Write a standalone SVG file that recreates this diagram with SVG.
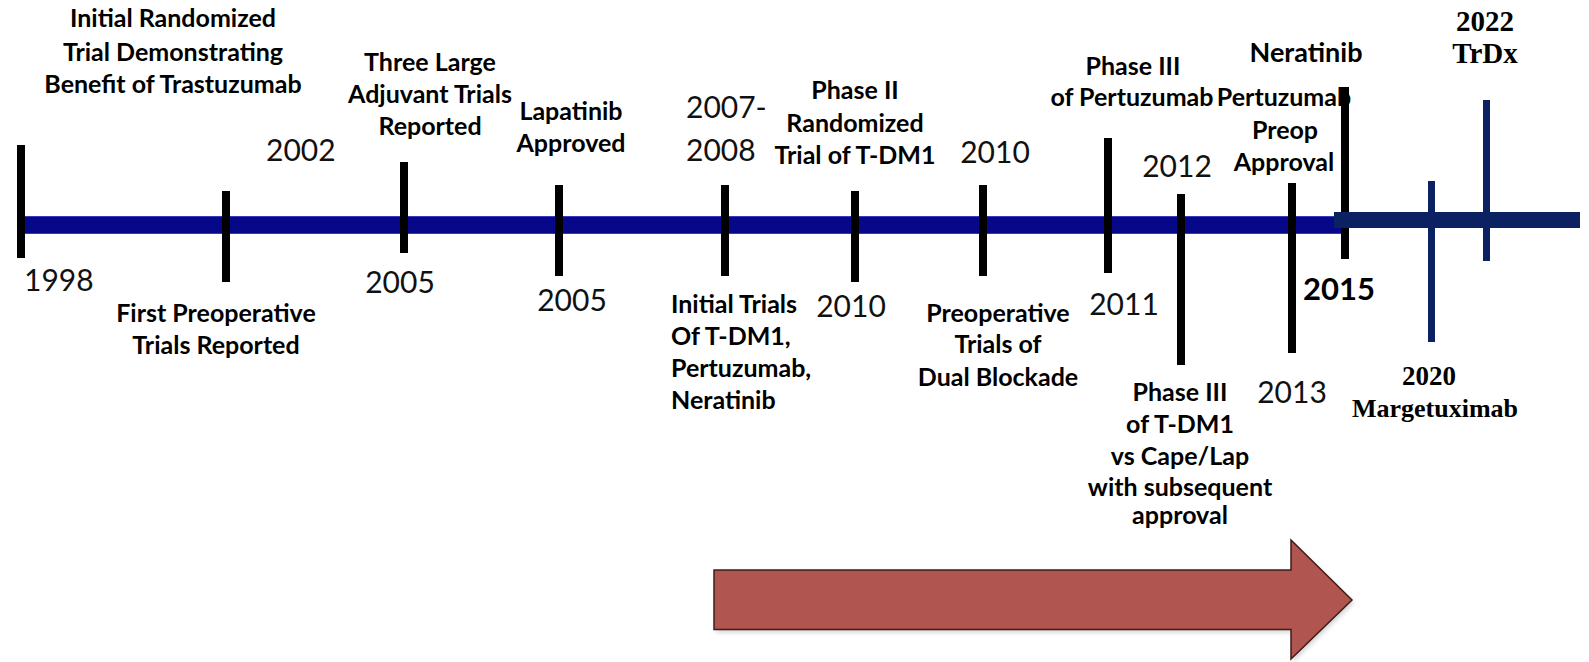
<svg xmlns="http://www.w3.org/2000/svg" width="1589" height="662" viewBox="0 0 1589 662">
<style>
.yr{font-family:Lato,"Open Sans","Liberation Sans",sans-serif;font-size:30px;fill:#111}
.yb{font-family:Lato,"Open Sans","Liberation Sans",sans-serif;font-size:31px;font-weight:bold;fill:#000}
.lb{font-family:Lato,"Open Sans","Liberation Sans",sans-serif;font-size:25px;font-weight:bold;fill:#000}
.lbl{font-family:Lato,"Open Sans","Liberation Sans",sans-serif;font-size:27px;font-weight:bold;fill:#000}
.tm{font-family:"Liberation Serif","Times New Roman",serif;font-size:27px;font-weight:bold;fill:#000}
.tm2{font-family:"Liberation Serif","Times New Roman",serif;font-size:29px;font-weight:bold;fill:#000}
.c{text-anchor:middle}
.tk{fill:#000}
.nv{fill:#0b2161}
</style>
<defs>
<filter id="sh" x="-5%" y="-20%" width="110%" height="150%">
<feGaussianBlur stdDeviation="2"/>
</filter>
</defs>
<rect width="1589" height="662" fill="#fff"/>
<g id="connectors">
<rect x="18" y="216.5" width="1330" height="17" fill="#07078a" stroke="#3a3ab8" stroke-width="1"/>
</g>
<g id="e1998"><rect class="tk" x="17" y="145" width="8" height="113"/><text class="yr" x="24" y="291">1998</text></g>
<g id="e2002"><rect class="tk" x="222" y="191" width="8" height="91"/><text class="yr" x="266" y="161">2002</text>
<text class="lb c" x="173" y="27">Initial Randomized</text><text class="lb c" x="173" y="61">Trial Demonstrating</text><text class="lb c" x="173" y="93">Benefit of Trastuzumab</text>
<text class="lb c" x="216" y="322">First Preoperative</text><text class="lb c" x="216" y="354">Trials Reported</text></g>
<g id="e2005a"><rect class="tk" x="400" y="162" width="8" height="91"/><text class="yr c" x="400" y="293">2005</text>
<text class="lb c" x="430" y="71">Three Large</text><text class="lb c" x="430" y="103">Adjuvant Trials</text><text class="lb c" x="430" y="135">Reported</text></g>
<g id="e2005b"><rect class="tk" x="555" y="185" width="8" height="91"/><text class="yr c" x="572" y="311">2005</text>
<text class="lb c" x="571" y="119.5">Lapatinib</text><text class="lb c" x="571" y="152">Approved</text></g>
<g id="e2007"><rect class="tk" x="721" y="185" width="8" height="91"/><text class="yr" x="686" y="118">2007-</text><text class="yr" x="686" y="160.5">2008</text>
<text class="lb" x="671" y="313">Initial Trials</text><text class="lb" x="671" y="345">Of T-DM1,</text><text class="lb" x="671" y="377">Pertuzumab,</text><text class="lb" x="671" y="409">Neratinib</text></g>
<g id="e2010a"><rect class="tk" x="851" y="191" width="8" height="91"/><text class="yr c" x="851" y="317">2010</text>
<text class="lb c" x="855" y="99">Phase II</text><text class="lb c" x="855" y="132">Randomized</text><text class="lb c" x="855" y="164">Trial of T-DM1</text></g>
<g id="e2010b"><rect class="tk" x="979" y="185" width="8" height="91"/><text class="yr c" x="995" y="163">2010</text>
<text class="lb c" x="998" y="322">Preoperative</text><text class="lb c" x="998" y="353">Trials of</text><text class="lb c" x="998" y="386">Dual Blockade</text></g>
<g id="e2011"><rect class="tk" x="1104" y="138" width="8" height="135"/><text class="yr c" x="1124" y="315">2011</text>
<text class="lb c" x="1133" y="75">Phase III</text><text class="lb c" x="1132" y="106">of Pertuzumab</text></g>
<g id="e2012"><rect class="tk" x="1177" y="194" width="8" height="171"/><text class="yr c" x="1177" y="177">2012</text>
<text class="lb c" x="1180" y="401">Phase III</text><text class="lb c" x="1180" y="433">of T-DM1</text><text class="lb c" x="1180" y="465">vs Cape/Lap</text><text class="lb c" x="1180" y="496">with subsequent</text><text class="lb c" x="1180" y="524">approval</text></g>
<g id="e2013"><text class="lb c" x="1284" y="106">Pertuzumab</text><text class="lb c" x="1285" y="139">Preop</text><text class="lb c" x="1284" y="171">Approval</text>
<rect class="tk" x="1288" y="183" width="8" height="170"/><text class="yr c" x="1292" y="403">2013</text></g>
<g id="e2015"><rect class="tk" x="1341" y="87" width="8" height="172"/><text class="yb" x="1303" y="300">2015</text>
<text class="lbl c" x="1306" y="62">Neratinib</text></g>
<g id="timeline2"><rect class="nv" x="1334" y="212" width="246" height="16"/></g>
<g id="e2020"><rect class="nv" x="1428" y="181" width="7" height="161"/><text class="tm c" x="1429" y="385">2020</text><text class="tm c" x="1435" y="417" style="font-size:26px">Margetuximab</text></g>
<g id="e2022"><rect class="nv" x="1483" y="100" width="7" height="161"/><text class="tm2 c" x="1485" y="31">2022</text><text class="tm2 c" x="1485" y="63">TrDx</text></g>
<g id="arrow">
<polygon points="714,570 1291,570 1291,540 1352,600 1291,659 1291,629.5 714,629.5" fill="#888" opacity="0.35" transform="translate(2,3)" filter="url(#sh)"/>
<polygon points="714,570 1291,570 1291,540 1352,600 1291,659 1291,629.5 714,629.5" fill="#b0554f" stroke="#3b1d1b" stroke-width="1.5"/>
</g>
</svg>
